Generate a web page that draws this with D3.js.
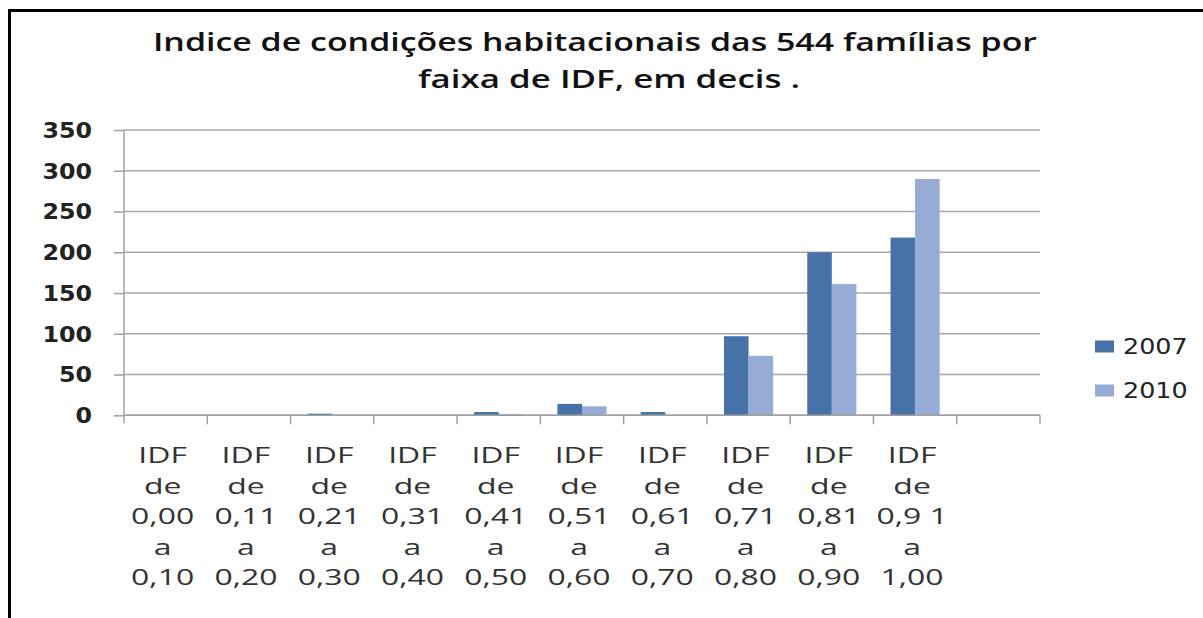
<!DOCTYPE html>
<html>
<head>
<meta charset="utf-8">
<script src="https://cdn.jsdelivr.net/npm/d3@7"></script>
<style>
  html, body { margin: 0; padding: 0; background: #fff; }
  svg { display: block; }
</style>
</head>
<body>
<svg id="chart"></svg>
<script>
// data
const categories = [
  ['IDF', 'de', '0,00', 'a', '0,10'],
  ['IDF', 'de', '0,11', 'a', '0,20'],
  ['IDF', 'de', '0,21', 'a', '0,30'],
  ['IDF', 'de', '0,31', 'a', '0,40'],
  ['IDF', 'de', '0,41', 'a', '0,50'],
  ['IDF', 'de', '0,51', 'a', '0,60'],
  ['IDF', 'de', '0,61', 'a', '0,70'],
  ['IDF', 'de', '0,71', 'a', '0,80'],
  ['IDF', 'de', '0,81', 'a', '0,90'],
  ['IDF', 'de', '0,9 1', 'a', '1,00'],
  []
]
const seriesNames = ['2007', '2010']
const values2007 = [0, 0, 2, 0, 4, 14, 4, 97, 200, 218, 0]
const values2010 = [0, 0, 0, 0, 1.5, 11, 0, 73, 161, 290, 0]
const yTicks = [0, 50, 100, 150, 200, 250, 300, 350]
const titleLines = [
  'Indice de condições habitacionais das 544 famílias por',
  'faixa de IDF, em decis .'
]

const width = 1203
const height = 618
const colors = {'2007': '#4672a8', '2010': '#97acd4'}

const svg = d3.select('#chart').attr('width', width).attr('height', height)

// frame (only top and left edges are visible)
svg.append('path')
  .attr('d', 'M9.5,618 L9.5,10.5 L1203,10.5')
  .attr('fill', 'none')
  .attr('stroke', '#000')
  .attr('stroke-width', 3)

// title
svg.append('g')
  .selectAll('text')
  .data(titleLines)
  .join('text')
  .attr('x', (d, i) => (i === 0 ? 595 : 609))
  .attr('y', (d, i) => 51 + i * 37)
  .attr('text-anchor', 'middle')
  .attr('textLength', (d, i) => (i === 0 ? 884 : 382))
  .attr('lengthAdjust', 'spacingAndGlyphs')
  .style('font-family', 'Open Sans, sans-serif')
  .style('font-weight', 600)
  .style('font-size', '25px')
  .style('fill', '#111')
  .text((d) => d)

const plotLeft = 124
const plotRight = 1040
const plotTop = 130
const plotBottom = 415.3

const idx = categories.map((d, i) => i)

const x0 = d3.scaleBand().domain(idx).range([plotLeft, plotRight]).padding(0)
const step = x0.step()
const x1 = d3.scaleBand()
  .domain(seriesNames)
  .range([step * 0.205, step * 0.795])
  .padding(0)

const y = d3.scaleLinear().domain([0, 350]).range([plotBottom, plotTop])

// gridlines
svg.append('g')
  .selectAll('line')
  .data(yTicks)
  .join('line')
  .attr('x1', plotLeft)
  .attr('x2', plotRight)
  .attr('y1', (d) => y(d))
  .attr('y2', (d) => y(d))
  .attr('stroke', '#a8a8a8')
  .attr('stroke-width', 1.5)

// bars
const rows = idx.map((i) => ({i: i, '2007': values2007[i], '2010': values2010[i]}))

svg.append('g')
  .selectAll('g')
  .data(rows)
  .join('g')
  .attr('transform', (d) => `translate(${x0(d.i)},0)`)
  .selectAll('rect')
  .data((d) => seriesNames.map((s) => ({key: s, value: d[s]})))
  .join('rect')
  .attr('x', (d) => x1(d.key))
  .attr('width', x1.bandwidth())
  .attr('y', (d) => y(d.value))
  .attr('height', (d) => y(0) - y(d.value))
  .attr('fill', (d) => colors[d.key])

// y axis
const yAxis = d3.axisLeft(y).tickValues(yTicks).tickSize(10).tickFormat(d3.format('d'))
const yg = svg.append('g').attr('transform', `translate(${plotLeft},0)`).call(yAxis)
yg.select('.domain').remove()
yg.selectAll('.tick line').attr('stroke', '#a0a0a0').attr('stroke-width', 1.5)
yg.selectAll('.tick text')
  .attr('x', 0)
  .attr('dy', '0.36em')
  .attr('transform', 'translate(-32,0) scale(1.16,1)')
  .style('font-family', 'DejaVu Sans, sans-serif')
  .style('font-weight', 'bold')
  .style('font-size', '20.5px')
  .style('fill', '#222')
svg.append('line')
  .attr('x1', plotLeft).attr('x2', plotLeft)
  .attr('y1', plotTop).attr('y2', plotBottom + 8)
  .attr('stroke', '#a0a0a0')
  .attr('stroke-width', 1.5)

// x axis: baseline and ticks at category boundaries
svg.append('line')
  .attr('x1', plotLeft).attr('x2', plotRight)
  .attr('y1', y(0)).attr('y2', y(0))
  .attr('stroke', '#a0a0a0')
  .attr('stroke-width', 1.5)

const boundaries = idx.map((i) => x0(i)).concat([x0(idx[idx.length - 1]) + step])
svg.append('g')
  .selectAll('line')
  .data(boundaries.slice(1))
  .join('line')
  .attr('x1', (d) => d).attr('x2', (d) => d)
  .attr('y1', y(0)).attr('y2', y(0) + 9)
  .attr('stroke', '#a0a0a0')
  .attr('stroke-width', 1.5)

// x labels, stacked lines
const labelG = svg.append('g')
  .selectAll('g')
  .data(rows)
  .join('g')
  .attr('transform', (d) => `translate(${x0(d.i) + step / 2 - 3},0)`)

labelG.selectAll('text')
  .data((d) => categories[d.i])
  .join('text')
  .attr('transform', (d, j) => `translate(0,${463 + j * 30.6}) scale(1.42,1)`)
  .attr('text-anchor', 'middle')
  .style('font-family', 'Open Sans, sans-serif')
  .style('font-size', '22.5px')
  .style('fill', '#333')
  .text((d) => d)

// legend
const legend = svg.append('g')
  .selectAll('g')
  .data(seriesNames)
  .join('g')
  .attr('transform', (d, i) => `translate(1095,${340.5 + i * 44})`)

legend.append('rect')
  .attr('width', 19)
  .attr('height', 12)
  .attr('fill', (d) => colors[d])

legend.append('text')
  .attr('transform', 'translate(28,13) scale(1.24,1)')
  .style('font-family', 'DejaVu Sans, sans-serif')
  .style('font-size', '20.5px')
  .style('fill', '#222')
  .text((d) => d)
</script>
</body>
</html>
